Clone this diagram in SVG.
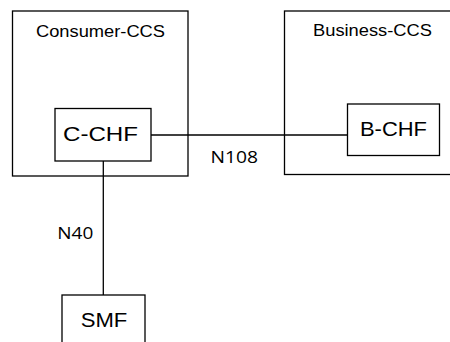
<svg xmlns="http://www.w3.org/2000/svg" width="450" height="342" viewBox="0 0 450 342">
<style>
.box{fill:#fff;stroke:#000;stroke-width:1.3}
.ln{stroke:#000;stroke-width:1.3;fill:none}
.t{font-family:"Liberation Sans",Arial,sans-serif;fill:#000}
.lbl{font-family:"Open Sans","Liberation Sans",sans-serif;fill:#000}
</style>
<rect width="450" height="342" fill="#fff"/>
<g id="consumer-ccs">
<rect class="box" x="12.5" y="11" width="175.5" height="165"/>
<text class="t" x="36" y="37.3" font-size="16" textLength="129" lengthAdjust="spacingAndGlyphs">Consumer-CCS</text>
</g>
<g id="business-ccs">
<rect class="box" x="284.5" y="11" width="180" height="163.5"/>
<text class="t" x="313" y="36" font-size="16" textLength="119" lengthAdjust="spacingAndGlyphs">Business-CCS</text>
</g>
<g id="connectors">
<line class="ln" x1="151" y1="135" x2="347.5" y2="135"/>
<line class="ln" x1="103.3" y1="161" x2="103.3" y2="295"/>
<text class="lbl" x="210.5" y="162.5" font-size="17" textLength="47.5" lengthAdjust="spacingAndGlyphs">N108</text>
<text class="lbl" x="57.3" y="239" font-size="17" textLength="36" lengthAdjust="spacingAndGlyphs">N40</text>
</g>
<g id="c-chf">
<rect class="box" x="55" y="108.5" width="96" height="52.5"/>
<text class="t" x="63" y="141" font-size="21" textLength="75" lengthAdjust="spacingAndGlyphs">C-CHF</text>
</g>
<g id="b-chf">
<rect class="box" x="347.5" y="104" width="92" height="51.5"/>
<text class="t" x="360" y="136" font-size="21" textLength="67" lengthAdjust="spacingAndGlyphs">B-CHF</text>
</g>
<g id="smf">
<rect class="box" x="62" y="295" width="83" height="60"/>
<text class="t" x="80.7" y="327.3" font-size="20.5" textLength="46.6" lengthAdjust="spacingAndGlyphs">SMF</text>
</g>
</svg>
